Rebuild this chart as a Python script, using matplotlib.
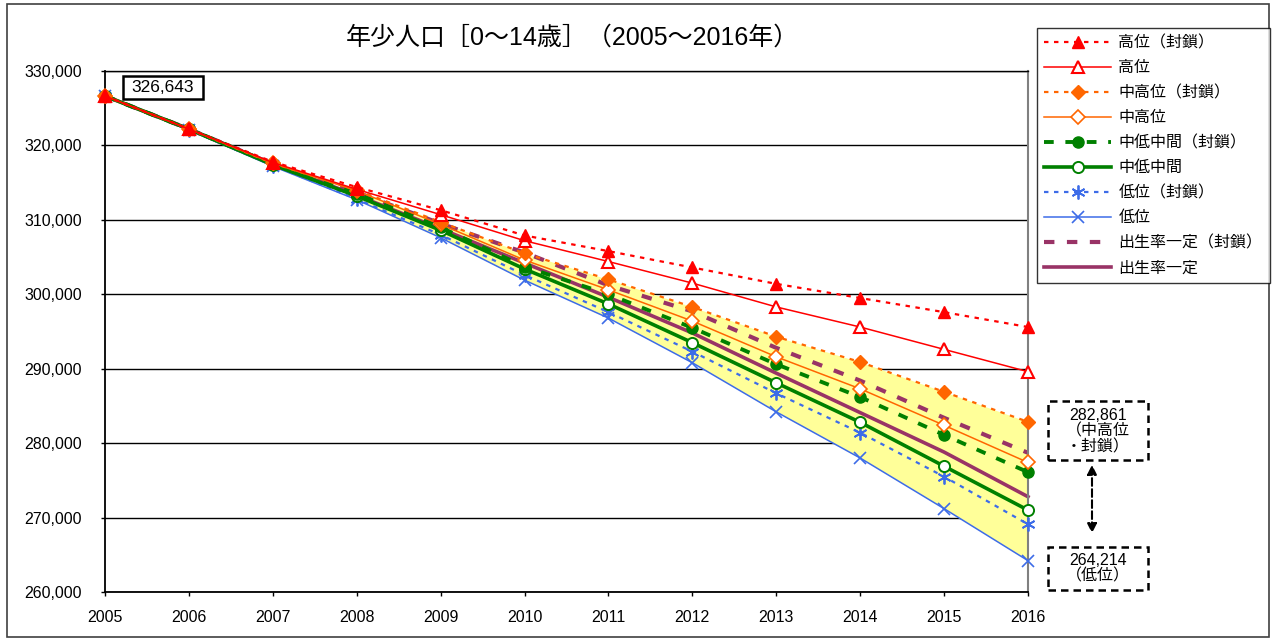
import matplotlib
matplotlib.use("Agg")
import matplotlib.pyplot as plt
from matplotlib.patches import Rectangle, FancyArrowPatch
from matplotlib.ticker import FuncFormatter, MultipleLocator

plt.rcParams['font.family'] = ['Liberation Sans', 'Noto Sans CJK JP', 'DejaVu Sans']

years = list(range(2005, 2017))

high_closed = [326643, 322200, 317800, 314400, 311300, 307900, 305800, 303600, 301400, 299500, 297600, 295600]
high = [326643, 322200, 317700, 314100, 310700, 307200, 304400, 301500, 298300, 295600, 292600, 289600]
midhigh_closed = [326643, 322200, 317600, 314000, 309700, 305500, 302000, 298300, 294300, 290900, 286900, 282861]
midhigh = [326643, 322200, 317600, 313900, 309400, 304600, 300600, 296400, 291600, 287300, 282400, 277400]
midlow_closed = [326643, 322200, 317500, 313500, 309000, 303700, 300000, 295500, 290600, 286200, 281100, 276100]
midlow = [326643, 322200, 317400, 313200, 308600, 303400, 298700, 293500, 288100, 282800, 276900, 271000]
low_closed = [326643, 322100, 317300, 312800, 308000, 302600, 297600, 292300, 286700, 281400, 275500, 269100]
low = [326643, 322100, 317200, 312700, 307600, 301900, 296800, 290800, 284200, 278000, 271200, 264214]
birth_closed = [326643, 322200, 317500, 313700, 309500, 305600, 301200, 297700, 292800, 288400, 283400, 278700]
birth = [326643, 322200, 317500, 313300, 308800, 304200, 299600, 294800, 289400, 284100, 278800, 272800]

labels = ['高位（封鎖）', '高位', '中高位（封鎖）', '中高位', '中低中間（封鎖）', '中低中間',
          '低位（封鎖）', '低位', '出生率一定（封鎖）', '出生率一定']
title = '年少人口［0～14歳］（2005～2016年）'
start_label = '326,643'
top_label = '282,861\n（中高位\n・封鎖）'
bottom_label = '264,214\n（低位）'

W, H = 1272, 639
fig = plt.figure(figsize=(W / 100, H / 100), dpi=100)
ax = fig.add_axes([105 / W, 1 - 592 / H, (1028 - 105) / W, (592 - 71) / H])

RED = '#FF0000'
ORANGE = '#FF6600'
GREEN = '#008000'
BLUE = '#3D6CE8'
PURPLE = '#993366'

# yellow band between mid-high (closed) and low, from 2008
i0 = years.index(2008)
ax.fill_between(years[i0:], low[i0:], midhigh_closed[i0:], color='#FFFF99', zorder=1, lw=0)

dotted = (0, (2, 2.5))
dashed = (0, (2.5, 3))
common = dict(clip_on=False)
ax.plot(years, birth, color=PURPLE, ls='-', lw=2.6, label=labels[9], zorder=2.0, **common)
ax.plot(years, birth_closed, color=PURPLE, ls=dashed, lw=3.0, label=labels[8], zorder=2.1, **common)
ax.plot(years, low, color=BLUE, ls='-', lw=1.1, marker='x', ms=9,
        mec=BLUE, mew=1.2, label=labels[7], zorder=3.0, **common)
ax.plot(years, low_closed, color=BLUE, ls=dotted, lw=1.6, marker=(6, 2, 0), ms=10,
        mec=BLUE, mew=1.3, label=labels[6], zorder=3.1, **common)
ax.plot(years, midlow, color=GREEN, ls='-', lw=2.6, marker='o', ms=8,
        mfc='white', mec=GREEN, mew=1.4, label=labels[5], zorder=3.2, **common)
ax.plot(years, midlow_closed, color=GREEN, ls=dashed, lw=2.8, marker='o', ms=8,
        mfc=GREEN, mec=GREEN, label=labels[4], zorder=3.3, **common)
ax.plot(years, midhigh, color=ORANGE, ls='-', lw=1.1, marker='D', ms=7,
        mfc='white', mec=ORANGE, mew=1.2, label=labels[3], zorder=3.4, **common)
ax.plot(years, midhigh_closed, color=ORANGE, ls=dotted, lw=1.6, marker='D', ms=7,
        mfc=ORANGE, mec=ORANGE, label=labels[2], zorder=3.5, **common)
ax.plot(years, high, color=RED, ls='-', lw=1.1, marker='^', ms=9,
        mfc='white', mec=RED, mew=1.5, label=labels[1], zorder=3.6, **common)
ax.plot(years, high_closed, color=RED, ls=dotted, lw=1.6, marker='^', ms=9,
        mfc=RED, mec=RED, label=labels[0], zorder=3.7, **common)

ax.set_xlim(2005, 2016)
ax.set_ylim(260000, 330000)
ax.set_xticks(years)
ax.yaxis.set_major_locator(MultipleLocator(10000))
ax.yaxis.set_major_formatter(FuncFormatter(lambda v, p: f'{int(v):,}'))
ax.grid(axis='y', color='black', lw=1.0, zorder=0)
ax.set_axisbelow(True)
ax.tick_params(axis='both', labelsize=11.5, length=3, width=1, colors='black')
ax.tick_params(axis='y', pad=13.5)
ax.tick_params(axis='x', pad=10)
for side in ['left', 'bottom']:
    ax.spines[side].set_color('black')
    ax.spines[side].set_linewidth(1.3)
ax.spines['top'].set_color('black')
ax.spines['top'].set_linewidth(1.0)
ax.spines['right'].set_color('#808080')
ax.spines['right'].set_linewidth(1.5)

fig.text(572 / W, 1 - 38 / H, title, ha='center', va='center', fontsize=18)

handles, labs = ax.get_legend_handles_labels()
order = [labs.index(l) for l in labels]
leg = fig.legend([handles[i] for i in order], [labs[i] for i in order],
                 loc='upper left', bbox_to_anchor=(1037 / W, 1 - 28 / H),
                 fontsize=11.5, frameon=True, fancybox=False, edgecolor='black',
                 handlelength=4.2, labelspacing=0.62, borderpad=0.45,
                 handletextpad=0.45, borderaxespad=0)
leg.get_frame().set_linewidth(1.0)

# annotation boxes
fig.patches.append(Rectangle((123 / W, 1 - 99 / H), 80 / W, 23 / H, transform=fig.transFigure,
                             fc='white', ec='black', lw=1.8, zorder=5))
fig.text(163 / W, 1 - 88 / H, start_label, ha='center', va='center', fontsize=12.5, zorder=6)

fig.patches.append(Rectangle((1048 / W, 1 - 460 / H), 100 / W, 59 / H, transform=fig.transFigure,
                             fc='white', ec='black', lw=1.8, ls=(0, (3, 2)), zorder=5))
fig.text(1098 / W, 1 - 431 / H, top_label, ha='center', va='center', fontsize=11.5,
         linespacing=1.05, zorder=6)
fig.patches.append(Rectangle((1048 / W, 1 - 590 / H), 100 / W, 43 / H, transform=fig.transFigure,
                             fc='white', ec='black', lw=1.8, ls=(0, (3, 2)), zorder=5))
fig.text(1098 / W, 1 - 568 / H, bottom_label, ha='center', va='center', fontsize=11.5,
         linespacing=1.05, zorder=6)
fig.patches.append(FancyArrowPatch(
    (1092 / W, 1 - 462 / H), (1092 / W, 1 - 536 / H), transform=fig.transFigure,
    arrowstyle='<|-|>', mutation_scale=14, color='black', lw=1.5, ls='--', zorder=5))

# outer chart frame
fig.patches.append(Rectangle((7 / W, 1 - 637 / H), (1269 - 7) / W, (637 - 4) / H,
                             transform=fig.transFigure, fill=False, ec='#404040', lw=1.2))

fig.savefig('out.png', dpi=100)
